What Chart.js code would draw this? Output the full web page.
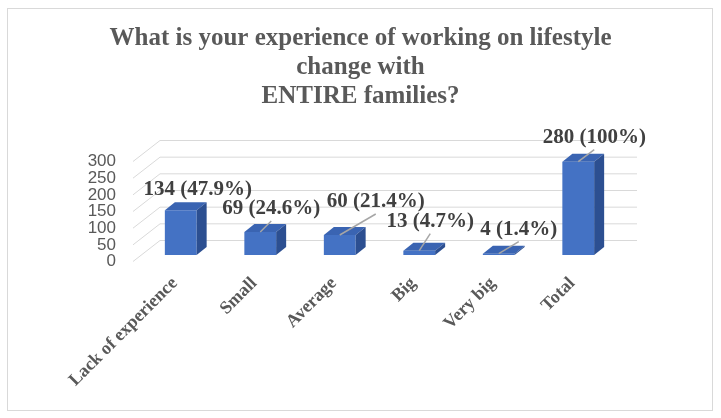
<!DOCTYPE html>
<html>
<head>
<meta charset="utf-8">
<script src="https://cdn.jsdelivr.net/npm/chart.js@4"></script>
<style>
  html, body { margin: 0; padding: 0; background: #fff; }
  #marco { position: absolute; left: 7px; top: 8px; width: 704px; height: 401px; border: 1px solid #d9d9d9; }
  #caja { position: absolute; left: 0; top: 0; width: 721px; height: 418px; }
</style>
</head>
<body>
<div id="marco"></div>
<div id="caja"><canvas id="myChart" width="721" height="418"></canvas></div>
<script>
// Datos
const categorias = ["Lack of experience", "Small", "Average", "Big", "Very big", "Total"];
const valores = [134, 69, 60, 13, 4, 280];
const porcentajes = ["47.9%", "24.6%", "21.4%", "4.7%", "1.4%", "100%"];
const ticksY = [0, 50, 100, 150, 200, 250, 300];
const titulo = ["What is your experience of working on lifestyle", "change with", "ENTIRE families?"];

// Posicion de cada etiqueta respecto a la cara superior de la barra
const desplazamientoEtiquetas = [[17, -15], [11, -18], [36, -28], [11, -24], [20, -19], [16, -19]];
const conLinea = [false, true, true, true, true, true];

const fondo = { dx: 19, dy: -14.5 };   // pared del fondo
const prof = { dx: 10, dy: -8 };       // profundidad de cada barra
const serif = "'Liberation Serif', 'Times New Roman', serif";

const barras3d = {
  id: "barras3d",
  beforeDatasetsDraw(chart) {
    const ctx = chart.ctx;
    const area = chart.chartArea;
    const escala = chart.scales.y;
    ctx.save();
    ctx.strokeStyle = "#d9d9d9";
    ctx.lineWidth = 1;
    ticksY.forEach((v) => {
      const p = escala.getPixelForValue(v);
      ctx.beginPath();
      ctx.moveTo(area.left - 8, p + 6.5);
      ctx.lineTo(area.left + fondo.dx, p + fondo.dy);
      ctx.lineTo(area.right + fondo.dx, p + fondo.dy);
      ctx.stroke();
    });
    ctx.restore();
  },
  afterDatasetsDraw(chart) {
    const ctx = chart.ctx;
    const meta = chart.getDatasetMeta(0);
    ctx.save();
    meta.data.forEach((bar) => {
      const izq = bar.x - bar.width / 2;
      const der = bar.x + bar.width / 2;
      // cara superior
      ctx.fillStyle = "#3a64b2";
      ctx.beginPath();
      ctx.moveTo(izq, bar.y);
      ctx.lineTo(der, bar.y);
      ctx.lineTo(der + prof.dx, bar.y + prof.dy);
      ctx.lineTo(izq + prof.dx, bar.y + prof.dy);
      ctx.closePath();
      ctx.fill();
      // cara lateral
      ctx.fillStyle = "#2c4f91";
      ctx.beginPath();
      ctx.moveTo(der, bar.y);
      ctx.lineTo(der + prof.dx, bar.y + prof.dy);
      ctx.lineTo(der + prof.dx, bar.base + prof.dy);
      ctx.lineTo(der, bar.base);
      ctx.closePath();
      ctx.fill();
    });

    // lineas guia y etiquetas
    ctx.font = `bold 21px ${serif}`;
    ctx.textAlign = "center";
    ctx.textBaseline = "alphabetic";
    meta.data.forEach((bar, i) => {
      const tx = bar.x + desplazamientoEtiquetas[i][0];
      const ty = bar.y + desplazamientoEtiquetas[i][1];
      if (conLinea[i]) {
        ctx.strokeStyle = "#a6a6a6";
        ctx.lineWidth = 1.5;
        ctx.beginPath();
        ctx.moveTo(bar.x, bar.y);
        ctx.lineTo(tx, ty + 7);
        ctx.stroke();
      }
      ctx.fillStyle = "#404040";
      ctx.fillText(`${valores[i]} (${porcentajes[i]})`, tx, ty);
    });
    ctx.restore();
  }
};

const config = {
  type: "bar",
  data: {
    labels: categorias,
    datasets: [
      {
        data: valores,
        backgroundColor: "#4472c4",
        borderWidth: 0,
        categoryPercentage: 1,
        barPercentage: 0.4,
      },
    ],
  },
  options: {
    responsive: false,
    animation: false,
    layout: { padding: { left: 0, right: 0, top: 0, bottom: 13 } },
    plugins: {
      legend: { display: false },
      tooltip: { enabled: false },
      title: {
        display: true,
        text: titulo,
        color: "#595959",
        font: { family: serif, size: 25, weight: "bold", lineHeight: 1.16 },
        padding: { top: 24.5, bottom: 43.5 },
      },
    },
    scales: {
      x: {
        grid: { display: false },
        border: { display: false },
        ticks: {
          color: "#595959",
          font: { family: serif, size: 18, weight: "bold" },
          maxRotation: 45,
          minRotation: 45,
          autoSkip: false,
          labelOffset: -6,
          padding: 10,
        },
        afterFit(scale) { scale.height = 150; },
      },
      y: {
        min: 0,
        max: 300,
        grid: { display: false },
        border: { display: false },
        afterBuildTicks(scale) { scale.ticks = ticksY.map((v) => ({ value: v })); },
        ticks: {
          color: "#595959",
          font: { family: "'Liberation Sans', Arial, sans-serif", size: 17 },
          padding: 17,
          labelOffset: 6.5,
          autoSkip: false,
        },
        afterFit(scale) { scale.width = 141; },
      },
      // eje vacio a la derecha para dejar el margen
      derecha: {
        type: "linear",
        position: "right",
        display: true,
        grid: { display: false },
        border: { display: false },
        ticks: { display: false },
        afterFit(scale) { scale.width = 103; },
      },
    },
  },
  plugins: [barras3d],
};

const myChart = new Chart(document.getElementById("myChart"), config);
</script>
</body>
</html>
